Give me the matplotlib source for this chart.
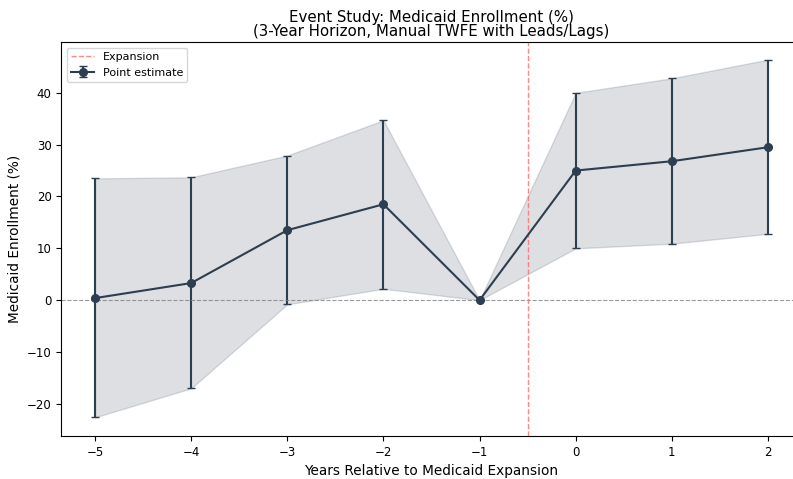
import matplotlib
matplotlib.use("Agg")
import matplotlib.pyplot as plt
import numpy as np

# Event-time coefficients with 95% confidence bounds
years = [-5, -4, -3, -2, -1, 0, 1, 2]
coef = [0.4, 3.3, 13.5, 18.5, 0.0, 25.0, 26.8, 29.5]
ci_low = [-22.6, -17.0, -0.8, 2.2, 0.0, 10.0, 10.9, 12.8]
ci_high = [23.5, 23.7, 27.9, 34.7, 0.0, 40.0, 42.8, 46.4]

color = '#2c3e50'

x = np.array(years)
y = np.array(coef)
lo = np.array(ci_low)
hi = np.array(ci_high)

fig = plt.figure(figsize=(7.93, 4.79), dpi=100)
ax = fig.add_axes([61.4/793, 1 - 436/479, (801.6 - 61.4)/793, (436 - 42)/479])

ax.fill_between(x, lo, hi, color=color, alpha=0.16, linewidth=1)
ax.errorbar(x, y, yerr=[y - lo, hi - y], fmt='o-', color=color,
            capsize=3, markersize=5.5, linewidth=1.5, label='Point estimate')
ax.axhline(0, color='gray', linestyle='--', linewidth=0.8, alpha=0.8)
ax.axvline(-0.5, color='#ff6b6b', linestyle='--', linewidth=1, alpha=0.8,
           label='Expansion')

ax.set_xlim(-5.35, 2.35)
ax.set_ylim(-26.2, 49.8)
ax.set_xlabel('Years Relative to Medicaid Expansion', fontsize=9.8)
ax.set_ylabel('Medicaid Enrollment (%)', fontsize=9.8)
ax.set_title('Event Study: Medicaid Enrollment (%)\n(3-Year Horizon, Manual TWFE with Leads/Lags)',
             fontsize=10.8, linespacing=0.95, pad=4)
ax.tick_params(labelsize=8.5)

ax.legend(loc='upper left', fontsize=8)

fig.savefig('out.png', dpi=100)
